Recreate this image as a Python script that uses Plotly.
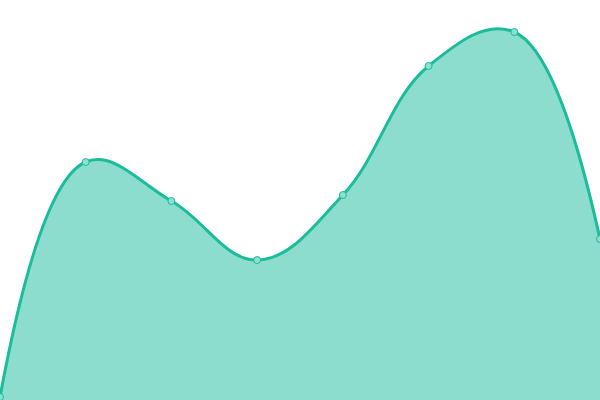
import plotly.graph_objects as go

# posição dos pontos (índice) e valores
indices = [0, 1, 2, 3, 4, 5, 6, 7]
valores = [3, 238, 199, 140, 205, 334, 368, 161]

fig = go.Figure()
fig.add_trace(go.Scatter(
    x=indices, y=valores,
    mode="lines+markers",
    line=dict(color="#1abc9c", width=3, shape="spline", smoothing=1.15),
    marker=dict(size=7, color="#8be0cf", line=dict(color="#1abc9c", width=1)),
    fill="tozeroy",
    fillcolor="rgba(26,188,156,0.5)",
    cliponaxis=False,
))

fig.update_layout(
    width=600, height=400,
    margin=dict(l=0, r=0, t=0, b=0),
    paper_bgcolor="white", plot_bgcolor="white",
    showlegend=False,
    xaxis=dict(range=[0, 7], visible=False),
    yaxis=dict(range=[0, 400], visible=False),
)

# tira a margem padrão do body pra o gráfico ocupar a janela toda
fig.write_html("out.html", config={"displayModeBar": False},
               post_script="document.body.style.margin='0';document.body.style.overflow='hidden';")
